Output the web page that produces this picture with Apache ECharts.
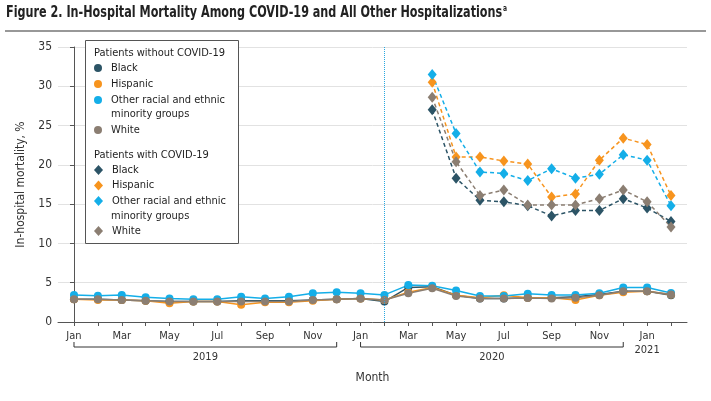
<!DOCTYPE html>
<html>
<head>
<meta charset="utf-8">
<script src="https://cdn.jsdelivr.net/npm/echarts@6/dist/echarts.min.js"></script>
<style>
html,body{margin:0;padding:0;background:#fff;}
#chart{width:711px;height:401px;}
</style>
</head>
<body>
<div id="chart"></div>
<script>
// ---- data ----
const months = ['Jan','Feb','Mar','Apr','May','Jun','Jul','Aug','Sep','Oct','Nov','Dec',
                'Jan','Feb','Mar','Apr','May','Jun','Jul','Aug','Sep','Oct','Nov','Dec',
                'Jan','Feb'];
const monthYears = [2019,2019,2019,2019,2019,2019,2019,2019,2019,2019,2019,2019,
                    2020,2020,2020,2020,2020,2020,2020,2020,2020,2020,2020,2020,
                    2021,2021];
const labelMonths = [0,2,4,6,8,10,12,14,16,18,20,22,24];
const yearLabels = ['2019','2020'];
const yearSpans = [[0,11],[12,23]];
const pandemicStart = 13; // Feb 2020

// Patients without COVID-19 (Jan 2019 - Feb 2021)
const nonCovidBlack    = [2.9,2.9,2.8,2.7,2.6,2.6,2.6,2.7,2.7,2.7,2.8,2.9,3.0,2.6,4.4,4.5,3.4,3.0,3.0,3.1,3.1,3.2,3.5,3.9,3.9,3.4];
const nonCovidHispanic = [2.9,2.8,2.8,2.7,2.4,2.6,2.6,2.2,2.5,2.5,2.7,2.9,3.0,2.8,3.8,4.4,3.4,3.1,3.4,3.1,3.1,2.8,3.4,3.8,3.9,3.5];
const nonCovidOther    = [3.45,3.35,3.45,3.15,3.0,2.9,2.9,3.2,3.0,3.2,3.65,3.8,3.65,3.45,4.7,4.6,4.0,3.3,3.3,3.6,3.45,3.45,3.65,4.4,4.4,3.7];
const nonCovidWhite    = [2.9,2.9,2.8,2.7,2.6,2.6,2.6,2.6,2.6,2.6,2.8,2.9,3.0,2.8,3.65,4.3,3.3,3.0,3.0,3.05,3.0,3.1,3.4,3.9,3.9,3.5];

// Patients with COVID-19 (Apr 2020 - Feb 2021)
const covidStart = 15;
const covidBlack    = [27.0,18.3,15.5,15.3,14.8,13.5,14.2,14.2,15.7,14.5,12.8];
const covidHispanic = [30.5,21.0,21.0,20.5,20.1,15.9,16.3,20.6,23.4,22.6,16.1];
const covidOther    = [31.5,24.0,19.1,18.9,18.0,19.5,18.3,18.8,21.3,20.6,14.8];
const covidWhite    = [28.6,20.4,16.1,16.8,14.9,14.9,14.9,15.7,16.8,15.3,12.1];

const yTicks = [0,5,10,15,20,25,30,35];

// ---- styles ----
const FONT = "'Liberation Sans Narrow','DejaVu Sans Condensed','Roboto Condensed','Noto Sans',sans-serif";
const C = {black:'#2c5466', hispanic:'#f7941e', other:'#14aee8', white:'#8b7e72'};

function toPairs(vals, start){ return vals.map((v,i)=>[start+i, v]); }

const groups = [
  {key:'nc', covid:false, items:[
    ['Black', nonCovidBlack, C.black],
    ['Hispanic', nonCovidHispanic, C.hispanic],
    ['Other racial and ethnic', nonCovidOther, C.other],
    ['White', nonCovidWhite, C.white]]},
  {key:'c', covid:true, items:[
    ['Black', covidBlack, C.black],
    ['Hispanic', covidHispanic, C.hispanic],
    ['Other racial and ethnic', covidOther, C.other],
    ['White', covidWhite, C.white]]}
];

const displayName = {};
const series = [];
groups.forEach(g=>{
  g.items.forEach(([label, vals, color])=>{
    const name = label + (g.covid ? ' (with COVID-19)' : ' (without COVID-19)');
    displayName[name] = label;
    series.push({
      name, type:'line',
      data: toPairs(vals, g.covid ? covidStart : 0),
      symbol: g.covid ? 'diamond' : 'circle',
      symbolSize: g.covid ? [9,11] : 8,
      showSymbol:true,
      itemStyle:{color, opacity:1},
      lineStyle:{color, width:1.5, type: g.covid ? [4,3] : 'solid'},
      z: g.covid ? 3 : 2,
      silent:true,
      animation:false
    });
  });
});

// Vertical dotted line at Feb 2020
series[0].markLine = {
  silent:true, symbol:'none', label:{show:false},
  lineStyle:{type:'dotted', color:'#2aa8e0', width:1},
  data:[{xAxis:pandemicStart}],
  animation:false
};

// Year brackets
series.push({
  type:'custom', name:'years', clip:false, silent:true, z:10,
  data: yearSpans.map(s=>[s[0], s[1], 0]),
  encode:{x:[0,1], y:2},
  renderItem(params, api){
    const p0 = api.coord([api.value(0), 0]);
    const p1 = api.coord([api.value(1), 0]);
    const yb = p0[1] + 25;
    return {type:'group', children:[
      {type:'polyline', shape:{points:[[p0[0], yb-5],[p0[0], yb],[p1[0], yb],[p1[0], yb-5]]},
       style:{stroke:'#333', lineWidth:1, fill:null}},
      {type:'text', style:{text:yearLabels[params.dataIndex], x:(p0[0]+p1[0])/2, y:yb+10,
        align:'center', verticalAlign:'middle', font:'11px '+FONT, fill:'#333'}}
    ]};
  },
  animation:false
});

const legendText = {fontFamily:FONT, fontSize:11, lineHeight:14, color:'#1e1e1e', padding:[0,0,0,4]};
function mkLegend(names, top, icon, gap){
  return {
    orient:'vertical', left:94, top, itemGap:gap, padding:0,
    itemWidth: icon==='circle' ? 8 : 9, itemHeight: icon==='circle' ? 8 : 10,
    icon, selectedMode:false, data:names,
    formatter:n=>displayName[n], textStyle:legendText, z:6
  };
}
const nc = series.slice(0,4).map(s=>s.name);
const cv = series.slice(4,8).map(s=>s.name);

const option = {
  backgroundColor:'#fff',
  animation:false,
  grid:{left:58, right:24, top:47, bottom:79, containLabel:false},
  xAxis:{
    type:'value', min:-0.67, max:25.67,
    name:'Month', nameLocation:'middle', nameGap:50,
    nameTextStyle:{fontFamily:FONT, fontSize:12, color:'#333'},
    axisLine:{show:true, lineStyle:{color:'#555', width:1}},
    axisTick:{show:true, length:4, lineStyle:{color:'#555'}, customValues: months.map((m,i)=>i)},
    axisLabel:{customValues:labelMonths, margin:7, fontFamily:FONT, fontSize:11, color:'#333', lineHeight:14,
      formatter:v=>{const i=Math.round(v); return monthYears[i]===2021 && months[i]==='Jan' ? months[i]+'\n'+monthYears[i] : months[i];}},
    splitLine:{show:false}
  },
  yAxis:{
    type:'value', min:0, max:35, interval:5,
    name:'In-hospital mortality, %', nameLocation:'middle', nameGap:30,
    nameTextStyle:{fontFamily:FONT, fontSize:12, color:'#333'},
    axisLine:{show:true, lineStyle:{color:'#555', width:1}},
    axisTick:{show:true, length:4, lineStyle:{color:'#555'}},
    axisLabel:{margin:6, fontFamily:FONT, fontSize:12, color:'#333', formatter:v=>yTicks.includes(v)?String(v):''},
    splitLine:{show:true, lineStyle:{color:'#e2e2e2', width:1}}
  },
  legend:[
    mkLegend(nc.slice(0,3), 61, 'circle', 2),
    mkLegend(nc.slice(3), 123, 'circle', 2),
    mkLegend(cv.slice(0,3), 163, 'diamond', 1.5),
    mkLegend(cv.slice(3), 224, 'diamond', 2)
  ],
  graphic:[
    {type:'text', x:6, y:13, scaleX:0.83, z:8,
     style:{text:'{t|Figure 2. In-Hospital Mortality Among COVID-19 and All Other Hospitalizations}{s|a}',
       verticalAlign:'middle',
       rich:{
         t:{fontFamily:FONT, fontSize:15, fontWeight:'bold', fill:'#222', lineHeight:19},
         s:{fontFamily:FONT, fontSize:8, fontWeight:'bold', fill:'#222', lineHeight:19, padding:[0,0,8,1]}
       }}},
    {type:'line', shape:{x1:5, y1:31, x2:706, y2:31}, style:{stroke:'#333', lineWidth:1.2}, z:5},
    {type:'rect', shape:{x:85.5, y:40.5, width:153, height:203}, style:{fill:'#fff', stroke:'#555', lineWidth:1}, z:5},
    {type:'text', style:{text:'Patients without COVID-19', x:94, y:53, verticalAlign:'middle', font:'11px '+FONT, fill:'#1e1e1e'}, z:7},
    {type:'text', style:{text:'minority groups', x:111, y:114, verticalAlign:'middle', font:'11px '+FONT, fill:'#1e1e1e'}, z:7},
    {type:'text', style:{text:'Patients with COVID-19', x:94, y:155, verticalAlign:'middle', font:'11px '+FONT, fill:'#1e1e1e'}, z:7},
    {type:'text', style:{text:'minority groups', x:111, y:216, verticalAlign:'middle', font:'11px '+FONT, fill:'#1e1e1e'}, z:7}
  ],
  series
};

const chart = echarts.init(document.getElementById('chart'), null, {renderer:'canvas'});
chart.setOption(option);
</script>
</body>
</html>
